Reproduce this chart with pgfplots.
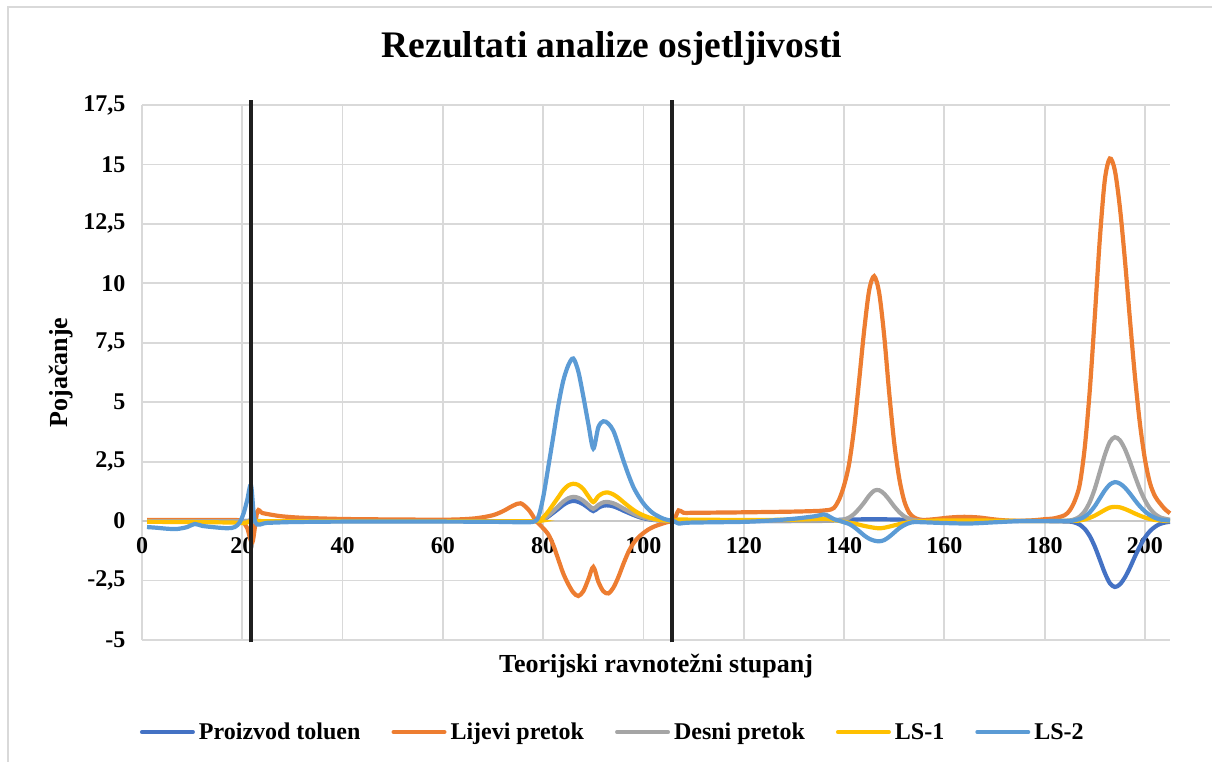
\documentclass[border=0pt]{standalone}
\usepackage{fontspec}
\setmainfont{Liberation Serif}
\usepackage{pgfplots}
\pgfplotsset{compat=1.18}
\definecolor{cA}{HTML}{4472C4}
\definecolor{cB}{HTML}{ED7D31}
\definecolor{cC}{HTML}{A5A5A5}
\definecolor{cD}{HTML}{FFC000}
\definecolor{cE}{HTML}{5B9BD5}
\definecolor{gridc}{HTML}{D9D9D9}
\definecolor{zeroc}{HTML}{C8C8C8}
\begin{document}
\begin{tikzpicture}
\path[use as bounding box] (0,0) rectangle (1212pt,-762pt);
\draw[gridc, line width=1.5pt] (8pt,-7pt) rectangle (1230pt,-780pt);
\begin{axis}[
  at={(142pt,-640pt)}, anchor=south west,
  scale only axis, width=1028pt, height=535pt,
  xmin=0, xmax=205, ymin=-5, ymax=17.5,
  xtick={0,20,40,60,80,100,120,140,160,180,200},
  ytick={-5,-2.5,0,2.5,5,7.5,10,12.5,15,17.5},
  axis line style={draw=none},
  major tick length=0pt,
  grid=major, grid style={gridc, line width=1.8pt},
  tick label style={font=\fontsize{24}{28}\selectfont\bfseries},
  /pgf/number format/assume math mode=true,
  /pgf/number format/use comma,
  xticklabel style={yshift=106pt},
  yticklabel style={xshift=-13pt},
  xlabel={Teorijski ravnotežni stupanj},
  ylabel={Pojačanje},
  label style={font=\fontsize{26}{30}\selectfont\bfseries},
  xlabel style={at={(axis description cs:0.5,-0.0598)}, anchor=base},
  ylabel style={at={(axis description cs:-0.072,0.5)}, anchor=base},
  title={Rezultati analize osjetljivosti},
  every axis title shift=0pt,
  title style={font=\fontsize{37.5}{42}\selectfont\bfseries, at={(axis description cs:0.457,1.0879)}, anchor=base},
  legend columns=5,
  legend style={draw=none, fill=none, font=\fontsize{24}{28}\selectfont\bfseries,
    at={(axis description cs:0.457,-0.172)}, anchor=center,
    column sep=4pt, /tikz/every even column/.append style={column sep=31pt},
    nodes={inner sep=0pt}},
  legend image code/.code={\draw[#1, line width=4pt, line cap=round] (0pt,0pt) -- (51pt,0pt);},
  clip=false,
  every axis plot/.append style={line width=4.2pt, smooth, tension=0.5, mark=none},
]
\addplot[zeroc, line width=1.8pt, sharp plot, forget plot] coordinates {(0,0)(205,0)};
% Proizvod toluen
\addplot[cA] coordinates {
(1,0)(10,0)(20,0)(22,0.03)(24,0)(40,0)(60,0)(78,0)(79,0.01)(80,0.06)(81,0.19)(82,0.35)(83,0.51)(84,0.68)(85,0.8)(86,0.85)(87,0.81)(88,0.71)(89,0.56)(90,0.42)(91,0.56)(92,0.65)(93,0.66)(94,0.62)(95,0.54)(96,0.44)(97,0.35)(98,0.26)(99,0.18)(100,0.12)(101,0.08)(102,0.05)(104,0.02)(106,0)(110,0)(120,0)(130,0.01)(136,0.03)(140,0.06)(146,0.08)(152,0.06)(156,0.03)(160,0.01)(170,0)(180,0)(183,-0.01)(185,-0.02)(186,-0.06)(187,-0.15)(188,-0.33)(189,-0.63)(190,-1.07)(191,-1.62)(192,-2.18)(193,-2.61)(194,-2.77)(195,-2.66)(196,-2.37)(197,-1.96)(198,-1.49)(199,-1.06)(200,-0.69)(201,-0.42)(202,-0.24)(203,-0.12)(204,-0.06)(205,-0.03)};
\addlegendentry{Proizvod toluen}
% Lijevi pretok
\addplot[cB] coordinates {
(1,0.05)(10,0.05)(18,0.05)(19,0.04)(20,0.0)(21,-0.3)(22,-0.9)(23,0.4)(24,0.34)(26,0.26)(28,0.2)(32,0.14)(40,0.09)(50,0.07)(60,0.06)(64,0.08)(67,0.13)(70,0.25)(72,0.42)(74,0.65)(75.5,0.75)(77,0.5)(78,0.2)(78.5,0)(79,-0.08)(80,-0.3)(81,-0.55)(82,-1.0)(83,-1.6)(84,-2.2)(85,-2.65)(86,-3.0)(87,-3.15)(88,-2.95)(89,-2.45)(90,-1.93)(91,-2.55)(92,-2.95)(93,-3.04)(94,-2.8)(95,-2.35)(96,-1.8)(97,-1.3)(98,-0.93)(99,-0.68)(100,-0.5)(101,-0.35)(102,-0.24)(103,-0.16)(104,-0.09)(105,-0.03)(106,0)(107,0.45)(108,0.35)(110,0.35)(120,0.37)(130,0.4)(135,0.43)(136,0.45)(137,0.47)(138,0.56)(139,0.9)(140,1.5)(141,2.4)(142,3.9)(143,5.9)(144,8.0)(145,9.7)(146,10.3)(147,9.6)(148,7.8)(149,5.4)(150,3.3)(151,1.8)(152,0.85)(153,0.35)(154,0.15)(155,0.07)(156,0.05)(158,0.08)(161,0.15)(164,0.18)(167,0.15)(170,0.07)(173,0.02)(176,0.02)(178,0.04)(180,0.08)(182,0.12)(184,0.25)(185,0.45)(186,0.85)(187,1.54)(188,3.1)(189,5.5)(190,8.6)(191,11.85)(192,14.35)(193,15.25)(194,14.75)(195,13.2)(196,11.0)(197,8.5)(198,6.1)(199,4.1)(200,2.6)(201,1.6)(202,1.05)(203,0.75)(204,0.5)(205,0.33)};
\addlegendentry{Lijevi pretok}
% Desni pretok
\addplot[cC] coordinates {
(1,0)(20,0)(22,0.02)(24,0)(60,0)(78,0)(79,0.01)(80,0.08)(81,0.23)(82,0.42)(83,0.62)(84,0.82)(85,0.96)(86,1.02)(87,0.98)(88,0.86)(89,0.68)(90,0.52)(91,0.68)(92,0.79)(93,0.8)(94,0.75)(95,0.65)(96,0.53)(97,0.42)(98,0.31)(99,0.22)(100,0.15)(101,0.1)(102,0.06)(104,0.02)(106,0)(120,0)(130,0)(136,0.01)(138,0.02)(139,0.03)(140,0.07)(141,0.15)(142,0.3)(143,0.52)(144,0.78)(145,1.07)(146,1.28)(147,1.3)(148,1.15)(149,0.9)(150,0.62)(151,0.38)(152,0.2)(153,0.1)(154,0.04)(155,0.02)(156,0)(170,0)(180,0)(183,0.01)(185,0.03)(186,0.08)(187,0.19)(188,0.42)(189,0.8)(190,1.36)(191,2.07)(192,2.78)(193,3.33)(194,3.53)(195,3.4)(196,3.03)(197,2.5)(198,1.9)(199,1.34)(200,0.88)(201,0.53)(202,0.3)(203,0.16)(204,0.1)(205,0.06)};
\addlegendentry{Desni pretok}
% LS-1
\addplot[cD] coordinates {
(1,-0.03)(10,-0.04)(18,-0.06)(20,-0.08)(21,-0.05)(22,0.05)(23,0)(30,0)(60,0)(78,0)(79,0.03)(80,0.15)(81,0.4)(82,0.7)(83,1.0)(84,1.3)(85,1.5)(86,1.57)(87,1.52)(88,1.35)(89,1.05)(90,0.8)(91,1.05)(92,1.18)(93,1.2)(94,1.12)(95,0.98)(96,0.8)(97,0.63)(98,0.47)(99,0.34)(100,0.24)(101,0.16)(102,0.1)(103,0.06)(104,0.03)(106,0)(107,0.07)(110,0.06)(120,0.05)(130,0.06)(136,0.1)(138,0.05)(140,-0.03)(142,-0.1)(144,-0.2)(146,-0.28)(147,-0.3)(148,-0.28)(150,-0.18)(152,-0.08)(154,-0.02)(156,0)(160,0.03)(170,0.02)(180,0)(186,0.01)(187,0.03)(188,0.07)(189,0.14)(190,0.23)(191,0.35)(192,0.47)(193,0.57)(194,0.6)(195,0.58)(196,0.51)(197,0.42)(198,0.32)(199,0.23)(200,0.15)(201,0.09)(202,0.05)(203,0.03)(204,0.01)(205,0)};
\addlegendentry{LS-1}
% LS-2
\addplot[cE] coordinates {
(1,-0.25)(3,-0.28)(5,-0.32)(7,-0.33)(9,-0.25)(10.5,-0.12)(12,-0.2)(14,-0.25)(17,-0.3)(18.5,-0.25)(19.5,-0.05)(20.3,0.35)(21,0.9)(21.75,1.5)(22.6,-0.05)(25,-0.07)(30,-0.04)(40,-0.02)(60,-0.02)(70,-0.03)(76,-0.05)(78,-0.03)(79,0.15)(80,1.0)(81,2.25)(82,3.54)(83,4.85)(84,5.9)(85,6.55)(86,6.84)(87,6.3)(88,5.25)(89,4.1)(90,3.05)(91,3.95)(92,4.2)(93,4.1)(94,3.8)(95,3.2)(96,2.55)(97,1.95)(98,1.43)(99,1.05)(100,0.74)(101,0.5)(102,0.32)(103,0.2)(104,0.1)(105,0.04)(106,0)(107,-0.1)(108,-0.08)(110,-0.06)(120,-0.03)(125,0.02)(130,0.1)(134,0.2)(136,0.28)(137,0.2)(138,0.08)(139,0.02)(140,-0.05)(141,-0.12)(142,-0.25)(143,-0.42)(144,-0.6)(145,-0.74)(146,-0.82)(147,-0.85)(148,-0.8)(149,-0.66)(150,-0.48)(151,-0.3)(152,-0.17)(153,-0.08)(154,-0.04)(156,-0.05)(160,-0.08)(165,-0.1)(170,-0.05)(175,0)(180,0)(185,0.01)(186,0.04)(187,0.09)(188,0.19)(189,0.37)(190,0.63)(191,0.96)(192,1.29)(193,1.54)(194,1.64)(195,1.58)(196,1.41)(197,1.16)(198,0.88)(199,0.62)(200,0.41)(201,0.25)(202,0.14)(203,0.07)(204,0.04)(205,0.02)};
\addlegendentry{LS-2}
% vertical separators
\addplot[black!88, line width=4pt, sharp plot, forget plot] coordinates {(21.75,-5.1)(21.75,17.7)};
\addplot[black!88, line width=4pt, sharp plot, forget plot] coordinates {(105.75,-5.1)(105.75,17.7)};
\end{axis}
\end{tikzpicture}
\end{document}
